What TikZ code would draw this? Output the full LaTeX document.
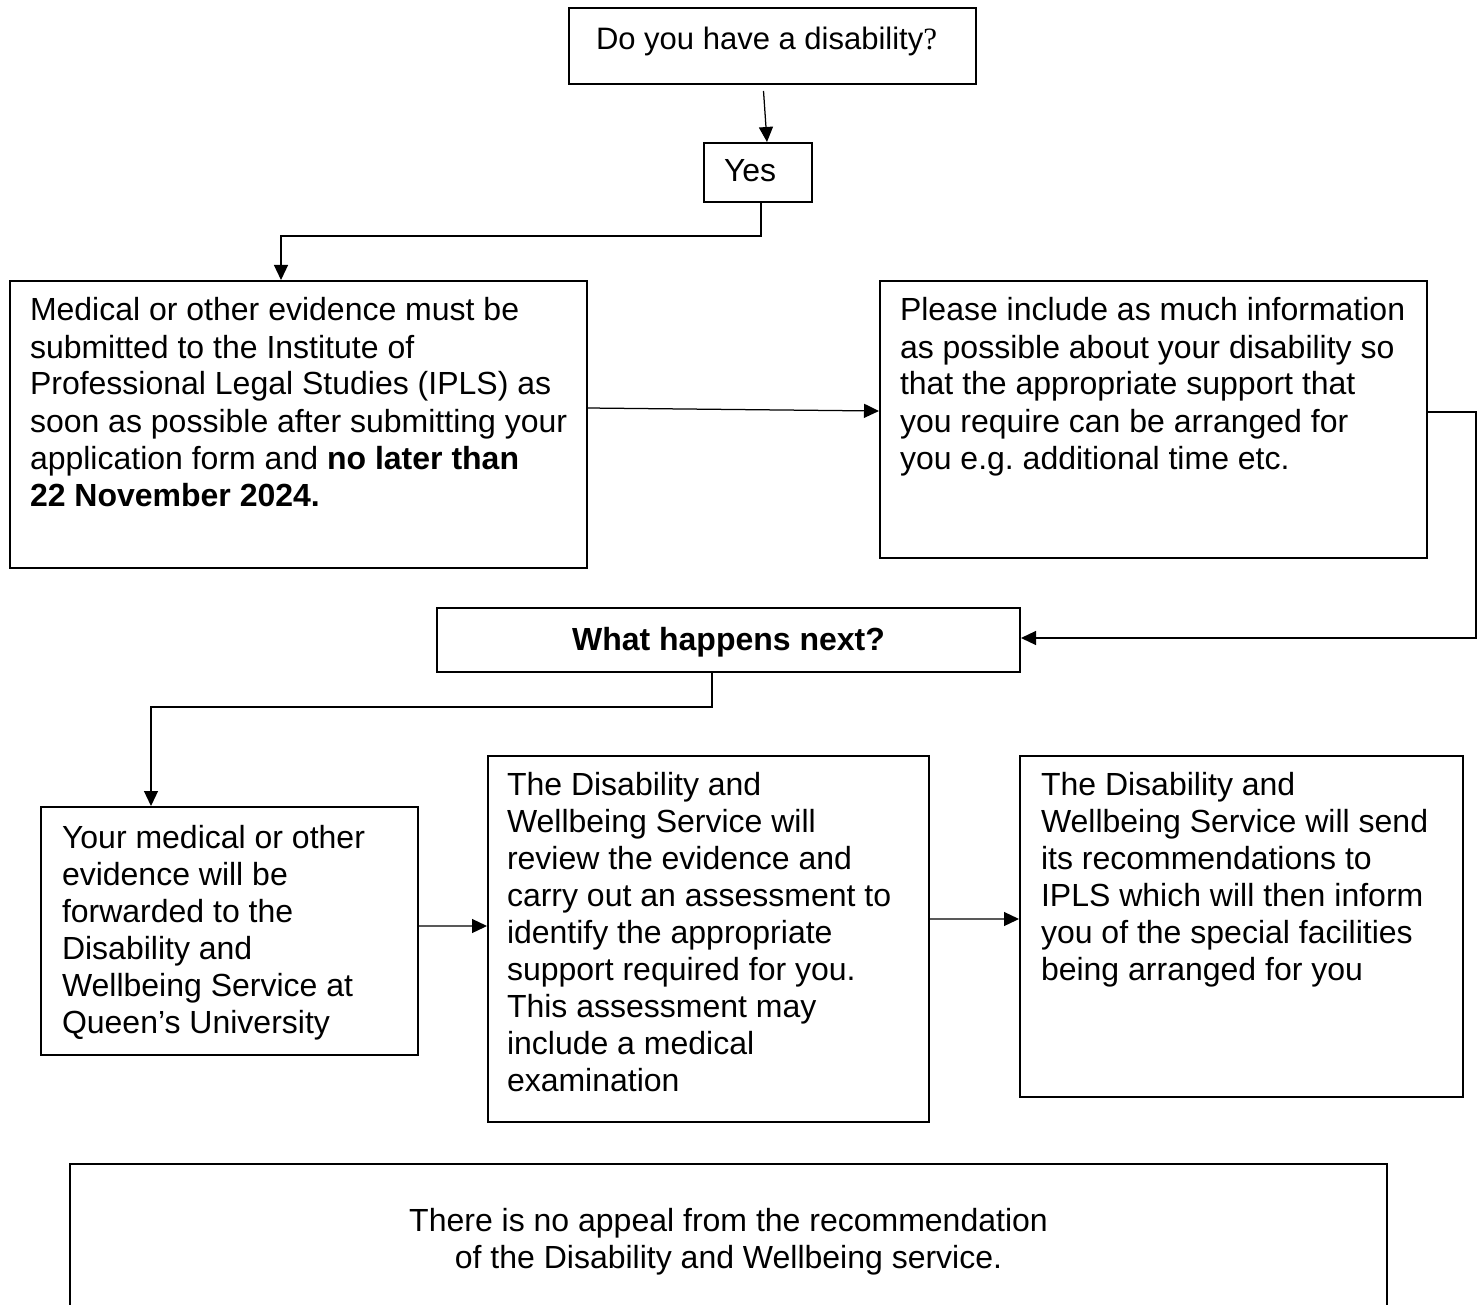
\documentclass[tikz,border=0pt]{standalone}
\usepackage{fontspec}
\setmainfont{Liberation Sans}
\newfontfamily\qmark{Liberation Serif}
\usetikzlibrary{arrows.meta}
\frenchspacing

\begin{document}
\begin{tikzpicture}[x=0.4pt,y=-0.4pt,>={Triangle[length=6pt,width=5.6pt]},
        line width=0.5pt,font=\fontsize{12.8}{14.8}\selectfont,
        box/.style={draw,rectangle,line width=0.8pt,anchor=north west,
                    inner ysep=0pt,align=flush left}]

  \clip (0,0) rectangle (1479,1305);

  \node[box,font=\fontsize{12.4}{14.8}\selectfont,inner xsep=10.8pt,text width=141.2pt,
        text height=16.8pt,text depth=13.6pt]
       (disab) at (568,7) {Do you have a disability{\qmark ?}};
  \node[box,inner xsep=8pt,text width=27.2pt,text height=15.6pt,text depth=8pt]
       (yes) at (703,142) {Yes};
  \node[box,inner xsep=8pt,text width=214.8pt,text height=16pt,text depth=98.8pt]
       (evidence) at (9,280) {Medical or other evidence must be\\
        submitted to the Institute of\\
        Professional Legal Studies (IPLS) as\\
        \mbox{soon as possible after submitting your}\\
        application form and \textbf{no later than}\\
        \textbf{22 November 2024.}};
  \node[box,inner xsep=8pt,text width=202.8pt,text height=16pt,text depth=94.8pt]
       (info) at (879,280) {Please include as much information\\
        as possible about your disability so\\
        that the appropriate support that\\
        you require can be arranged for\\
        you e.g. additional time etc.};
  \node[box,align=flush center,inner xsep=8pt,text width=217.2pt,text height=16.8pt,text depth=8.8pt]
       (next) at (436,607) {\textbf{What happens next?}};
  \node[box,inner xsep=8.4pt,text width=134pt,text height=16.4pt,text depth=82.8pt]
       (forward) at (40,806) {Your medical or other\\
        evidence will be\\
        forwarded to the\\
        Disability and\\
        Wellbeing Service at\\
        Queen’s University};
  \node[box,inner xsep=7.6pt,text width=161.2pt,text height=15.6pt,text depth=130.8pt]
       (review) at (487,755) {The Disability and\\
        Wellbeing Service will\\
        review the evidence and\\
        carry out an assessment to\\
        identify the appropriate\\
        support required for you.\\
        This assessment may\\
        include a medical\\
        examination};
  \node[box,inner xsep=8.4pt,text width=160.4pt,text height=15.6pt,text depth=120.8pt]
       (send) at (1019,755) {The Disability and\\
        Wellbeing Service will send\\
        its recommendations to\\
        IPLS which will then inform\\
        you of the special facilities\\
        being arranged for you};
  \node[box,align=flush center,inner xsep=8pt,text width=510.8pt,text height=26.8pt,text depth=80pt]
       (appeal) at (69,1163) {There is no appeal from the recommendation\\
        of the Disability and Wellbeing service.};

  \draw[->] ([shift={(-9,6)}]disab.south) -- ([shift={(9,0)}]yes.north);
  \draw[->] ([shift={(3,0)}]yes.south) -- ++(0,33) -| ([shift={(-17.5,0)}]evidence.north);
  \draw[->] ([shift={(0,-16.5)}]evidence.east) -- ([shift={(0,-8.5)}]info.west);
  \draw[->] ([shift={(0,-7.5)}]info.east) -- ++(48,0) |- ([shift={(0,-2)}]next.east);
  \draw[->] ([shift={(-16.5,0)}]next.south) -- ++(0,34) -| ([shift={(-78.5,0)}]forward.north);
  \draw[->] ([shift={(0,-5)}]forward.east) -- ([shift={(0,-13)}]review.west);
  \draw[->] ([shift={(0,-20)}]review.east) -- ([shift={(0,-7.5)}]send.west);

\end{tikzpicture}
\end{document}
